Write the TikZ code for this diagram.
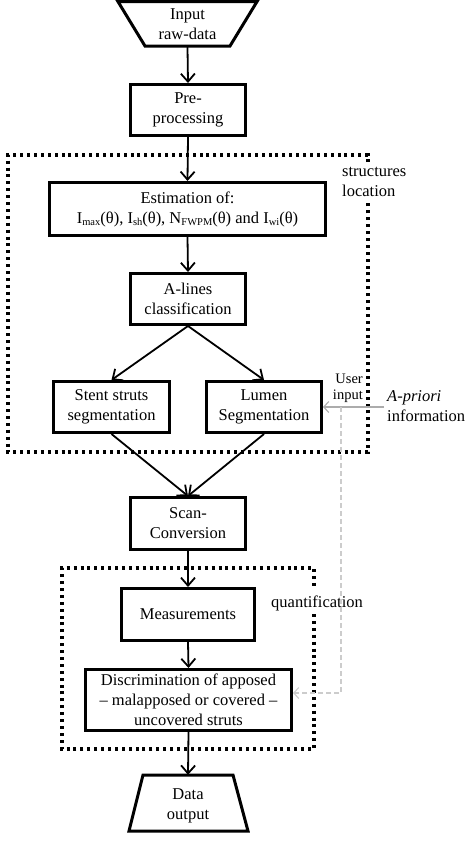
\documentclass[tikz,border=0pt]{standalone}
\usepackage{fontspec}
\setmainfont{Liberation Serif}
\usetikzlibrary{arrows.meta}
\newcommand{\lowsub}[1]{\raisebox{-0.3ex}{\fontsize{10.5}{11}\selectfont #1}}
\begin{document}
\begin{tikzpicture}[x=1pt,y=-1pt,
  font=\fontsize{16.5}{20}\selectfont,
  box/.style={draw, line width=3pt, align=center, inner sep=0pt},
  ghost/.style={align=center, inner sep=0pt},
  arr/.style={line width=1.8pt, -{Straight Barb[length=8pt,width=14pt]}},
  dotbox/.style={line width=3.2pt, dash pattern=on 3pt off 3.9pt},
  garr/.style={draw=gray!65, line width=1.1pt, -{Straight Barb[length=5pt,width=11pt]}},
  gdash/.style={draw=gray!40, line width=1.1pt, dash pattern=on 5pt off 3pt, -{Straight Barb[length=5pt,width=11pt]}},
  lbl/.style={inner sep=0pt}
]
\useasboundingbox (0,0) rectangle (474,846);
% input trapezoid
\draw[line width=3pt] (118,1.6) -- (257,1.6) -- (230,46) -- (145,46) -- cycle;
\node[ghost, minimum width=85pt, minimum height=46pt] (in) at (187.5,24) {Input\\raw-data};
% boxes
\node[box, minimum width=115pt, minimum height=51pt] (pre) at (188,110) {Pre-\\processing};
\node[box, minimum width=276pt, minimum height=53pt] (est) at (187.5,209) {Estimation of:\\I\lowsub{max}(θ), I\lowsub{sh}(θ), N\lowsub{FWPM}(θ) and I\lowsub{wi}(θ)};
\node[box, minimum width=115pt, minimum height=51pt] (alin) at (188,299) {A-lines\\classification};
\node[box, minimum width=116pt, minimum height=51pt] (stent) at (111.5,407) {Stent struts\\segmentation};
\node[box, minimum width=115pt, minimum height=51pt] (lumen) at (264,407) {Lumen\\Segmentation};
\node[box, minimum width=115pt, minimum height=52pt] (scan) at (188,523.5) {Scan-\\Conversion};
\node[box, minimum width=133pt, minimum height=52pt] (meas) at (188,614.5) {Measurements};
\node[box, minimum width=206pt, minimum height=61pt] (disc) at (188.5,700) {Discrimination of apposed\\– malapposed or covered –\\uncovered struts};
% output trapezoid
\draw[line width=3pt] (143,775) -- (233,775) -- (248,831) -- (129,831) -- cycle;
\node[ghost, minimum width=90pt, minimum height=56pt] (out) at (188,803) {};
\node[ghost] (outt) at (188,806) {Data\\output};
% dotted groups
\draw[dotbox] (368,162) -- (368,155) -- (8,155) -- (8,452) -- (368,452) -- (368,200);
\draw[dotbox] (314,614) -- (314,749) -- (62,749) -- (62,568) -- (314,568) -- (314,588);
% labels
\node[lbl, anchor=west, align=left] (lstruct) at (342,182) {structures\\location};
\node[lbl] (lquant) at (317,603) {quantification};
\node[lbl, anchor=east, align=right, font=\fontsize{14.5}{16}\selectfont] (luser) at (363,388) {User\\input};
\node[lbl, anchor=west, align=left] (lapri) at (387,406) {\textit{A-priori}\\information};
% connectors
\draw[arr] (in.south) -- (pre.north);
\draw[arr] (pre.south) -- (est.north);
\draw[arr] (est.south) -- (alin.north);
\draw[arr] (alin.south) -- (stent.north);
\draw[arr] (alin.south) -- (lumen.north);
\draw[arr] (stent.south) -- (scan.north);
\draw[arr] (lumen.south) -- (scan.north);
\draw[arr] (scan.south) -- (meas.north);
\draw[arr] (meas.south) -- (disc.north);
\draw[arr] (disc.south) -- (out.north);
% a-priori input
\coordinate (asrc) at (384,407);
\coordinate (abr) at (341,407);
\coordinate (acorner) at (341,693);
\draw[garr] (asrc) -- (lumen.east);
\draw[gdash] (abr) -- (acorner) -- (disc.east |- acorner);
\end{tikzpicture}
\end{document}
